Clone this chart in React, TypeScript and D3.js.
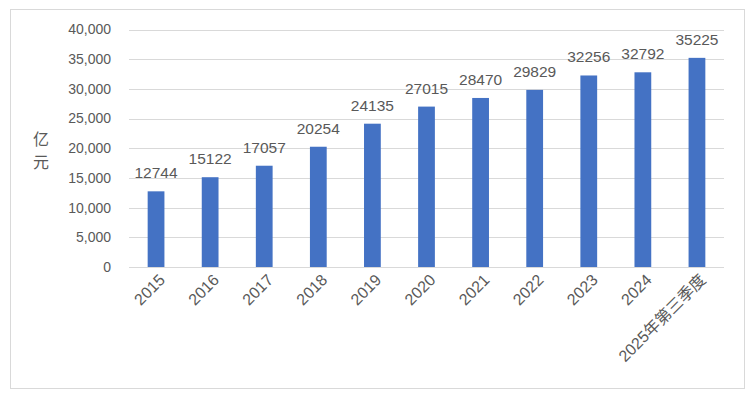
import React, { useEffect, useRef } from 'react'
import * as d3 from 'd3'

const categories = ['2015', '2016', '2017', '2018', '2019', '2020', '2021', '2022', '2023', '2024', '2025年第三季度']
const values = [12744, 15122, 17057, 20254, 24135, 27015, 28470, 29829, 32256, 32792, 35225]
const yTicks = [0, 5000, 10000, 15000, 20000, 25000, 30000, 35000, 40000]
const yTitle = ['亿', '元']

export default function App() {
  const ref = useRef<SVGSVGElement>(null)

  useEffect(() => {
    const svg = d3.select(ref.current)
    svg.selectAll('*').remove()

    const margin = { top: 29.5, right: 27, bottom: 127, left: 129 }
    const W = 751, H = 394
    const font = "'Liberation Sans', Arial, sans-serif"

    // outer frame
    svg.append('rect')
      .attr('x', 10.5).attr('y', 9.5)
      .attr('width', 734).attr('height', 379)
      .attr('fill', '#fff').attr('stroke', '#d9d9d9')

    const x = d3.scaleBand()
      .domain(categories)
      .range([margin.left, W - margin.right])
      .paddingInner(0.69).paddingOuter(0.345)

    const y = d3.scaleLinear().domain([0, 40000]).range([H - margin.bottom, margin.top])

    // grid lines
    svg.append('g').selectAll('line')
      .data(yTicks)
      .enter().append('line')
      .attr('x1', margin.left).attr('x2', W - margin.right)
      .attr('y1', d => Math.round(y(d)) + 0.5).attr('y2', d => Math.round(y(d)) + 0.5)
      .attr('stroke', '#d9d9d9').attr('stroke-width', 1)

    // y tick labels
    svg.append('g').selectAll('text')
      .data(yTicks)
      .enter().append('text')
      .attr('x', 111).attr('y', d => y(d))
      .attr('dy', '0.35em')
      .attr('text-anchor', 'end')
      .style('font-family', font).style('font-size', '14px')
      .attr('fill', '#595959')
      .text(d => d3.format(',')(d))

    // y title, stacked characters
    svg.append('g').selectAll('text')
      .data(yTitle)
      .enter().append('text')
      .attr('x', 41).attr('y', (d, i) => 145 + i * 23)
      .attr('text-anchor', 'middle')
      .style('font-family', "'Noto Sans CJK SC', sans-serif").style('font-size', '16px')
      .attr('fill', '#595959')
      .text(d => d)

    // bars
    svg.append('g').selectAll('rect')
      .data(values)
      .enter().append('rect')
      .attr('x', (d, i) => x(categories[i])!)
      .attr('width', x.bandwidth())
      .attr('y', d => y(d))
      .attr('height', d => y(0) - y(d))
      .attr('fill', '#4472c4')

    // value labels
    svg.append('g').selectAll('text')
      .data(values)
      .enter().append('text')
      .attr('x', (d, i) => x(categories[i])! + x.bandwidth() / 2)
      .attr('y', d => y(d) - 13)
      .attr('text-anchor', 'middle')
      .style('font-family', font).style('font-size', '15.5px')
      .attr('fill', '#595959')
      .text(d => d)

    // x labels, rotated
    svg.append('g').selectAll('text')
      .data(categories)
      .enter().append('text')
      .attr('transform', d => `translate(${x(d)! + x.bandwidth() / 2 + 6},${y(0) + 10}) rotate(-45)`)
      .attr('text-anchor', 'end')
      .attr('dy', '0.35em')
      .style('font-family', "'Liberation Sans', 'Noto Sans CJK SC', sans-serif").style('font-size', '16px')
      .attr('fill', '#595959')
      .text(d => d)
  }, [])

  return (
    <svg ref={ref} width={751} height={394} style={{ position: 'absolute', left: 0, top: 0 }} />
  )
}
